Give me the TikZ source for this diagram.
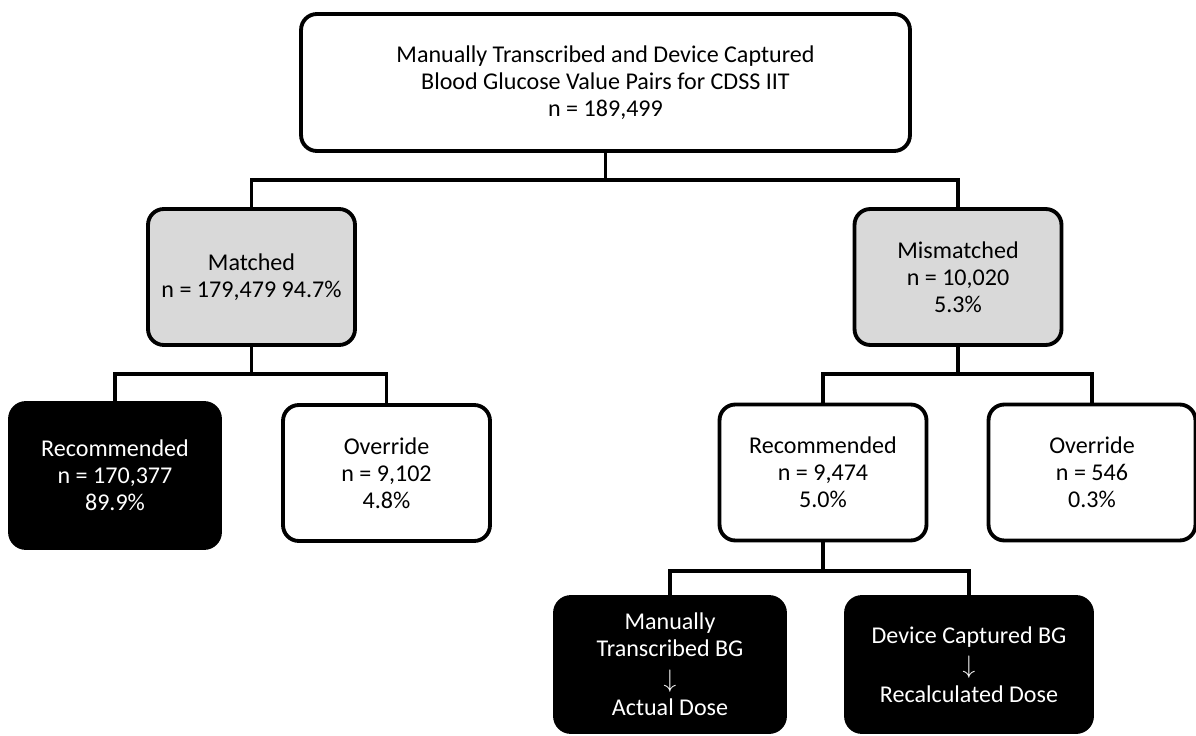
\documentclass[tikz,border=0pt]{standalone}
\usepackage{fontspec}
\setmainfont{Carlito}
\definecolor{boxgrey}{HTML}{D9D9D9}
\newcommand{\downarr}{{\fontsize{14.5}{15.4}\selectfont$\downarrow$}}
\tikzset{
  box/.style={draw=black, line width=2.2pt, rounded corners=9pt, align=center,
    inner sep=0pt, minimum width=4.14cm, minimum height=2.72cm,
    font=\fontsize{13.7}{15.4}\selectfont},
  greybox/.style={box, fill=boxgrey},
  darkbox/.style={box, fill=black, text=white},
  link/.style={line width=2.2pt},
}
\begin{document}
\begin{tikzpicture}[x=0.02cm, y=-0.02cm]
    \useasboundingbox (0,0) rectangle (1196,736);
    \node[box, minimum width=12.18cm, minimum height=2.74cm] (b1) at (605.5, 82.5)
      {Manually Transcribed and Device Captured\\ Blood Glucose Value Pairs for CDSS IIT\\ n = 189,499};
    \node[greybox] (b2) at (251.5, 277) {Matched\\ n = 179,479 94.7\%};
    \node[greybox] (b3) at (958, 277) {Mismatched\\ n = 10,020\\ 5.3\%};
    \node[darkbox, minimum width=4.2cm, minimum height=2.9cm] (b4) at (115, 475.5) {Recommended\\ n = 170,377\\ 89.9\%};
    \node[box] (b5) at (386.5, 473) {Override\\ n = 9,102\\ 4.8\%};
    \node[box] (b6) at (823, 472.5) {Recommended\\ n = 9,474\\ 5.0\%};
    \node[box] (b7) at (1092, 472.5) {Override\\ n = 546\\ 0.3\%};
    \node[darkbox, minimum width=4.6cm, minimum height=2.7cm] (b8) at (670, 664.5) {Manually\\ Transcribed BG\\[2pt] \downarr\\[1pt] Actual Dose};
    \node[darkbox, minimum width=4.92cm, minimum height=2.7cm] (b9) at (969, 664.5) {Device Captured BG\\[2pt] \downarr\\[1pt] Recalculated Dose};
    \draw[link] (b1.south) -- ++(0,27) -| (b2.north);
    \draw[link] (b1.south) -- ++(0,27) -| (b3.north);
    \draw[link] (b2.south) -- ++(0,27) -| (b4.north);
    \draw[link] (b2.south) -- ++(0,27) -| (b5.north);
    \draw[link] (b3.south) -- ++(0,27) -| (b6.north);
    \draw[link] (b3.south) -- ++(0,27) -| (b7.north);
    \draw[link] (b6.south) -- ++(0,29) -| (b8.north);
    \draw[link] (b6.south) -- ++(0,29) -| (b9.north);
\end{tikzpicture}
\end{document}
